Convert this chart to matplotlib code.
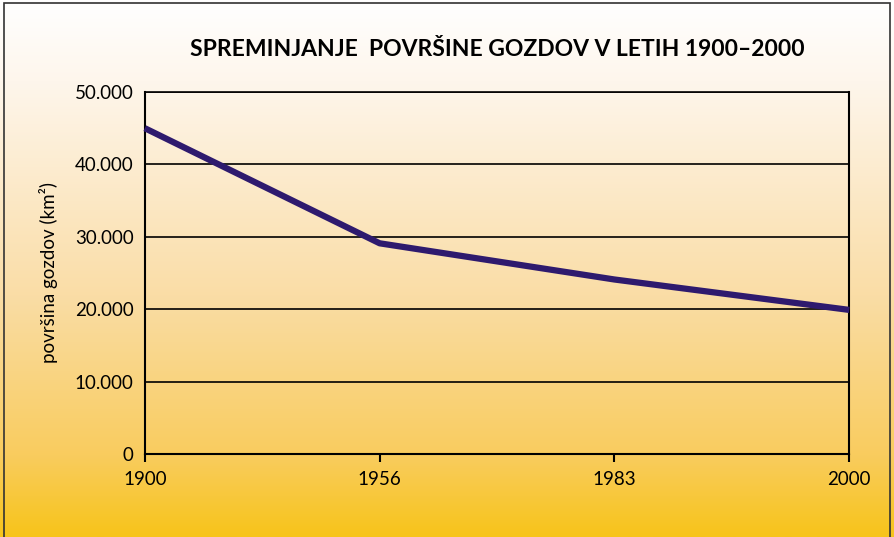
import numpy as np
import matplotlib
matplotlib.use("Agg")
import matplotlib.pyplot as plt
from matplotlib.colors import LinearSegmentedColormap
from matplotlib.patches import Rectangle

years = ["1900", "1956", "1983", "2000"]
area = [45000, 29100, 24100, 19900]
yticks = [0, 10000, 20000, 30000, 40000, 50000]
ytick_labels = ["0", "10.000", "20.000", "30.000", "40.000", "50.000"]

plt.rcParams['font.family'] = ['Lato', 'DejaVu Sans']

fig = plt.figure(figsize=(8.94, 5.37), dpi=100)

# background gradient
bg = fig.add_axes([0, 0, 1, 1], zorder=-10)
cmap = LinearSegmentedColormap.from_list(
    "g", [(0, "#FFFFFF"), (0.15, "#FEF6EC"), (0.55, "#FADDA6"), (0.85, "#F9CC5E"), (1.0, "#F7C41A")])
grad = np.linspace(0, 1, 256).reshape(-1, 1)
bg.imshow(grad, aspect="auto", cmap=cmap, extent=[0, 1, 0, 1], origin="upper")
bg.add_patch(Rectangle((0.004, -0.01), 0.992, 1.004, fill=False, edgecolor="#333333", lw=1.2,
                       transform=bg.transAxes))
bg.set_xlim(0, 1); bg.set_ylim(0, 1)
bg.axis("off")

ax = fig.add_axes([0.162, 0.1546, 0.788, 0.6741])
ax.set_facecolor("none")
x = np.arange(len(years))
ax.plot(x, area, color="#2E1A6E", lw=4.5, solid_capstyle="butt", zorder=5, clip_on=False)
ax.set_xlim(0, len(years) - 1)
ax.set_ylim(0, 50000)
ax.set_yticks(yticks)
ax.set_yticklabels(ytick_labels)
ax.set_xticks(x)
ax.set_xticklabels(years)
ax.grid(axis="y", color="black", lw=1.2)
ax.set_axisbelow(True)
for s in ax.spines.values():
    s.set_color("black")
    s.set_linewidth(1.5)
ax.spines["top"].set_linewidth(1.2)
ax.tick_params(axis="y", length=0, pad=8, labelsize=13.5)
ax.tick_params(axis="x", length=6, width=1.5, direction="out", pad=6, labelsize=13.5)
ax.set_ylabel("površina gozdov (km²)", fontsize=13.5, labelpad=12)

fig.text(0.556, 0.908, "SPREMINJANJE  POVRŠINE GOZDOV V LETIH 1900–2000",
         ha="center", va="center", fontsize=16.5, fontweight="bold")

fig.savefig("out.png", dpi=100)
